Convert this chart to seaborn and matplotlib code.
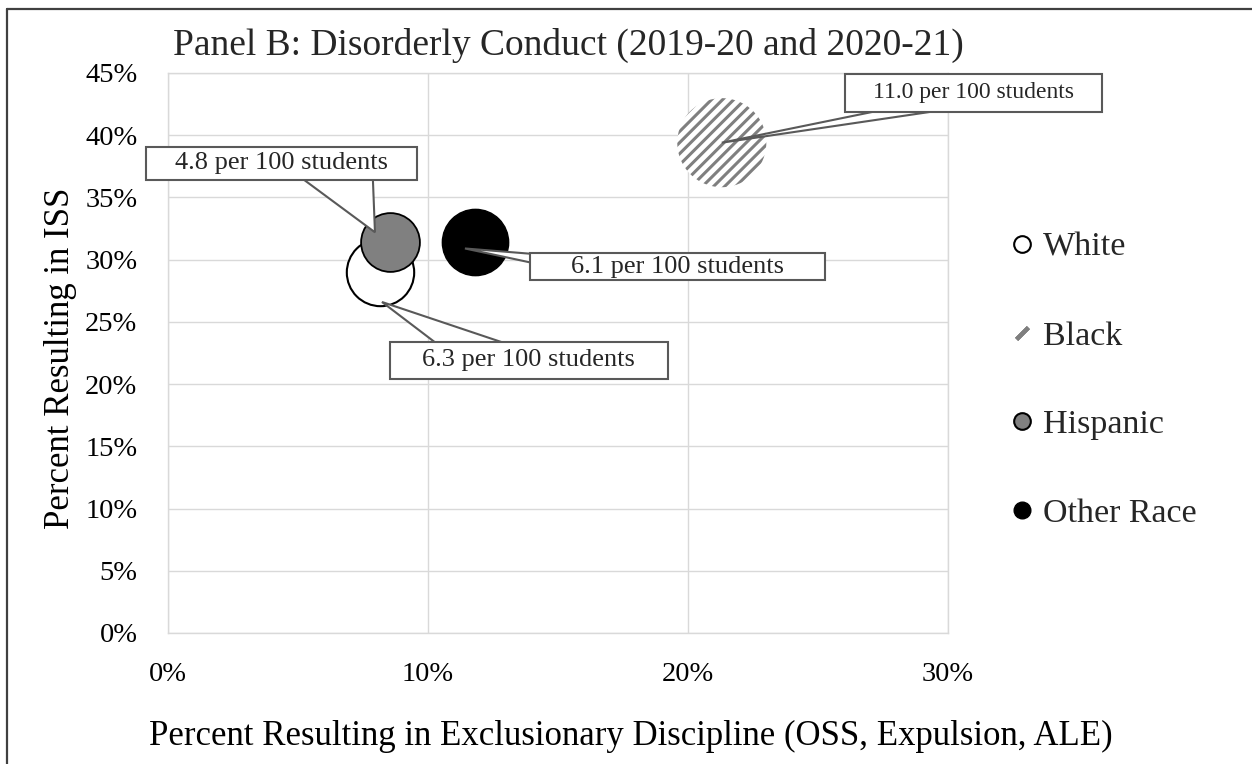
import numpy as np
import pandas as pd
import matplotlib
matplotlib.use("Agg")
import matplotlib.pyplot as plt
import seaborn as sns
from matplotlib.lines import Line2D
from matplotlib.path import Path
from matplotlib.ticker import FuncFormatter

# ---------------- data ----------------
groups = ["White", "Black", "Hispanic", "Other Race"]
pct_exclusionary = [8.15, 21.3, 8.55, 11.8]     # x, %
pct_iss = [29.0, 39.4, 31.4, 31.4]               # y, %
rate_per_100 = [6.3, 11.0, 4.8, 6.1]             # bubble size
callout_text = ["6.3 per 100 students", "11.0 per 100 students",
                "4.8 per 100 students", "6.1 per 100 students"]
# callout geometry in data units: pointer tip, label centre, pointer base
callout_tip_x = [8.23, 21.3, 7.96, 11.42]
callout_tip_y = [26.6, 39.4, 32.2, 30.9]
callout_txt_x = [13.88, 30.98, 4.35, 19.6]
callout_txt_y = [21.9, 43.4, 37.73, 29.45]
callout_base_x = [(10.35, 13.04), (27.65, 30.08), (5.19, 7.88), (14.04, 14.04)]
callout_base_y = [(23.23, 23.23), (42.11, 42.11), (36.48, 36.48), (30.46, 29.73)]
x_ticks = [0, 10, 20, 30]
y_ticks = [0, 5, 10, 15, 20, 25, 30, 35, 40, 45]

title = "Panel B: Disorderly Conduct (2019-20 and 2020-21)"
xlabel = "Percent Resulting in Exclusionary Discipline (OSS, Expulsion, ALE)"
ylabel = "Percent Resulting in ISS"

df = pd.DataFrame({"group": groups, "x": pct_exclusionary, "y": pct_iss,
                   "rate": rate_per_100})

# ---------------- style ----------------
sns.set_theme(style="whitegrid")
plt.rcParams["font.family"] = ["Liberation Serif", "DejaVu Serif"]
plt.rcParams["hatch.color"] = "#7f7f7f"
plt.rcParams["hatch.linewidth"] = 2.2

face = {"White": "white", "Black": "white", "Hispanic": "#808080", "Other Race": "black"}
edge = {"White": "black", "Black": "#7f7f7f", "Hispanic": "black", "Other Race": "black"}
lw = {"White": 1.5, "Black": 0.0, "Hispanic": 1.3, "Other Race": 1.0}
hatch = {"White": None, "Black": "///", "Hispanic": None, "Other Race": None}

W, H = 1252, 764
fig = plt.figure(figsize=(W / 100, H / 100), dpi=100)
ax = fig.add_axes([168 / W, 1 - 633 / H, 780 / W, 560 / H])

SMAX = 4110  # points^2 for the largest value
for g in groups:
    sub = df[df["group"] == g]
    sns.scatterplot(data=sub, x="x", y="y", size="rate", sizes=(0, SMAX),
                    size_norm=(0, max(rate_per_100)), legend=False, ax=ax,
                    color=face[g], edgecolor=edge[g], linewidth=lw[g],
                    hatch=hatch[g], zorder=3, alpha=1)

ax.set_xlim(0, 30)
ax.set_ylim(0, 45)
ax.set_xticks(x_ticks)
ax.set_yticks(y_ticks)
ax.xaxis.set_major_formatter(FuncFormatter(lambda v, p: f"{v:.0f}%"))
ax.yaxis.set_major_formatter(FuncFormatter(lambda v, p: f"{v:.0f}%"))
ax.tick_params(axis="both", length=0, labelsize=20.5, colors="black")
ax.tick_params(axis="y", pad=22)
ax.tick_params(axis="x", pad=21)
ax.grid(True, color="#d9d9d9", linewidth=1.0)
ax.set_axisbelow(True)
for s in ax.spines.values():
    s.set_color("#d9d9d9")
    s.set_linewidth(1.0)

ax.set_xlabel(xlabel, fontsize=25, color="black")
ax.set_ylabel(ylabel, fontsize=25, color="black")
ax.xaxis.set_label_coords((631 - 168) / 780, (633 - 720) / 560)
ax.yaxis.set_label_coords((77 - 168) / 780, (633 - 358) / 560)

fig.text(568 / W, 1 - 55 / H, title, ha="center", va="baseline", fontsize=27)


# ---------------- callouts ----------------
def make_box(padx, pady):
    def box(x0, y0, width, height, mutation_size):
        px, py = padx * mutation_size, pady * mutation_size
        a, b = x0 - px, y0 - py
        c, d = x0 + width + px, y0 + height + py
        return Path([(a, b), (c, b), (c, d), (a, d), (a, b)], closed=True)
    return box

callout_size = [19, 17, 19, 19]
box_pad = [(1.23, 0.30), (1.17, 0.35), (1.10, 0.21), (1.55, 0.08)]
for i in range(len(groups)):
    # wedge-shaped pointer from the box edge to the bubble
    ax.fill([callout_tip_x[i], callout_base_x[i][0], callout_base_x[i][1]],
            [callout_tip_y[i], callout_base_y[i][0], callout_base_y[i][1]],
            facecolor="white", edgecolor="#595959", linewidth=1.5,
            joinstyle="miter", zorder=4, clip_on=False)
    ax.text(callout_txt_x[i], callout_txt_y[i], callout_text[i],
            ha="center", va="center", fontsize=callout_size[i], zorder=5,
            clip_on=False,
            bbox=dict(boxstyle=make_box(*box_pad[i]), fc="white",
                      ec="#595959", lw=1.5))

# ---------------- legend ----------------
handles = [
    Line2D([], [], ls="", marker="o", markersize=12, markerfacecolor="white",
           markeredgecolor="black", markeredgewidth=1.5),
    Line2D([], [], ls="", marker=(2, 2, -45), markersize=12,
           color="#7f7f7f", markeredgewidth=3),
    Line2D([], [], ls="", marker="o", markersize=12, markerfacecolor="#808080",
           markeredgecolor="black", markeredgewidth=1.5),
    Line2D([], [], ls="", marker="o", markersize=12, markerfacecolor="black",
           markeredgecolor="black"),
]
fig.legend(handles, groups, loc="center left",
           bbox_to_anchor=(1012 / W, 1 - 380.5 / H), frameon=False, fontsize=24.5,
           labelspacing=1.70, handlelength=0.6, handletextpad=0.3,
           borderpad=0, borderaxespad=0)

# ---------------- outer border (left and top) ----------------
fig.add_artist(Line2D([7 / W, 7 / W], [0, 1 - 9 / H], transform=fig.transFigure,
                      color="#404040", lw=1.6))
fig.add_artist(Line2D([7 / W, 1], [1 - 9 / H, 1 - 9 / H], transform=fig.transFigure,
                      color="#404040", lw=1.6))

fig.savefig("out.png", dpi=100)
